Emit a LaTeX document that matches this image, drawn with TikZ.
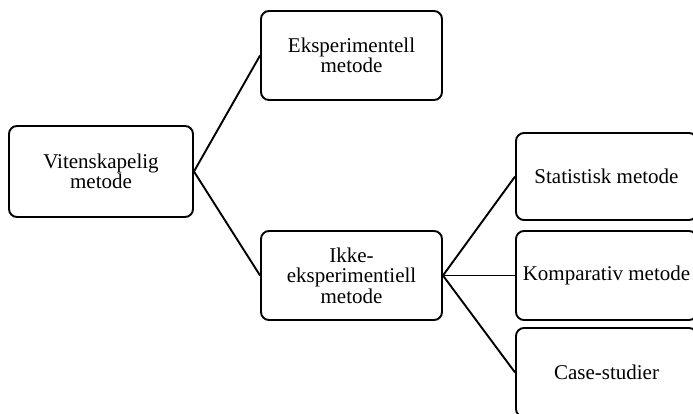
\documentclass[tikz,border=0pt]{standalone}
\usepackage{fontspec}
\setmainfont{Liberation Serif}
\begin{document}
\begin{tikzpicture}[x=1pt,y=-1pt,
  box/.style={draw=black,line width=1.9pt,rounded corners=8pt,align=center,inner sep=0pt,
    minimum width=181pt,minimum height=89pt,font=\fontsize{21}{20.5}\selectfont},
  conn/.style={draw=black,line width=1.9pt}]
\useasboundingbox (0,0) rectangle (693,414);
\clip (0,0) rectangle (693,414);
\node[box,minimum width=184pt,minimum height=91pt] (vit) at (101,171.5) {Vitenskapelig\\metode};
\node[box] (eks) at (351.5,55.5) {Eksperimentell\\metode};
\node[box] (ikke) at (351.5,275.5) {Ikke-\\eksperimentiell\\metode};
\node[box,minimum height=87pt] (stat) at (606.5,176.5) {Statistisk metode};
\node[box] (komp) at (606.5,275.5) {Komparativ metode};
\node[box] (case) at (606.5,372.5) {Case-studier};
\draw[conn] (vit.east) -- (eks.west);
\draw[conn] (vit.east) -- (ikke.west);
\draw[conn] (ikke.east) -- (stat.west);
\draw[conn] (ikke.east) -- (komp.west);
\draw[conn] (ikke.east) -- (case.west);
\end{tikzpicture}
\end{document}
